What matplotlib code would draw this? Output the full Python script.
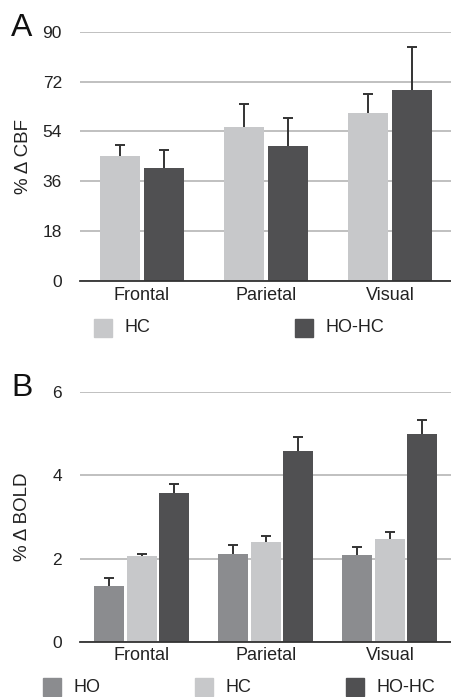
import numpy as np
import matplotlib.pyplot as plt
from matplotlib.patches import Rectangle

plt.rcParams['font.family'] = ['Liberation Sans', 'DejaVu Sans']

# --- datos ---
regions = ['Frontal', 'Parietal', 'Visual']

cbf_names = ['HC', 'HO-HC']
cbf_mean = {'HC': [45.1, 55.6, 60.6], 'HO-HC': [40.8, 48.7, 68.9]}
cbf_top = {'HC': [49.1, 63.8, 67.5], 'HO-HC': [47.2, 58.8, 84.4]}
cbf_ticks = [0, 18, 36, 54, 72, 90]

bold_names = ['HO', 'HC', 'HO-HC']
bold_mean = {'HO': [1.34, 2.10, 2.08], 'HC': [2.06, 2.40, 2.47], 'HO-HC': [3.57, 4.59, 5.00]}
bold_top = {'HO': [1.53, 2.33, 2.27], 'HC': [2.12, 2.55, 2.63], 'HO-HC': [3.80, 4.93, 5.34]}
bold_ticks = [0, 2, 4, 6]

colors = {'HO': '#8b8c8f', 'HC': '#c7c8ca', 'HO-HC': '#505052'}
W, H = 452, 697


def panel(rect, names, mean, top, ticks, offsets, width, letter, ylabel, leg_x, leg_y):
    ax = fig.add_axes(rect)
    x = np.arange(len(regions))
    for name, off in zip(names, offsets):
        m = np.array(mean[name])
        t = np.array(top[name])
        ax.bar(x + off, m, width, color=colors[name], zorder=2)
        # solo la mitad superior del error
        ax.vlines(x + off, m, t, color='#333333', linewidth=1.4, zorder=1)
        ax.plot(x + off, t, ls='none', marker='_', ms=7, mew=1.4, color='#333333', zorder=1)
    ax.set_xlim(-0.5, len(regions) - 0.5)
    ax.set_ylim(ticks[0], ticks[-1])
    ax.set_yticks(ticks)
    ax.set_xticks(x)
    ax.set_xticklabels(regions, fontsize=13, color='#222222')
    ax.tick_params(axis='y', length=0, pad=13, labelsize=12.5, labelcolor='#222222')
    ax.tick_params(axis='x', length=0, pad=4)
    ax.yaxis.grid(True, color='#b5b5b5', linewidth=1.2, zorder=0)
    ax.set_axisbelow(True)
    for s in ['top', 'right', 'left']:
        ax.spines[s].set_visible(False)
    ax.spines['bottom'].set_color('#333333')
    ax.spines['bottom'].set_linewidth(1.3)
    ax.spines['bottom'].set_zorder(3)

    top_px = H - (rect[1] + rect[3]) * H
    fig.text(11 / W, 1 - (top_px - 4) / H, letter, fontsize=23, va='center', ha='left', color='#111111')
    fig.text(23 / W, rect[1] + rect[3] / 2, ylabel, rotation=90, fontsize=13.5,
             va='center', ha='center', color='#222222')

    for name, lx in zip(names, leg_x):
        fig.patches.append(Rectangle((lx / W, 1 - (leg_y + 9) / H), 18 / W, 18 / H,
                                     transform=fig.transFigure, color=colors[name]))
        fig.text((lx + 31) / W, 1 - leg_y / H, name, fontsize=13, va='center', ha='left', color='#222222')
    return ax


fig = plt.figure(figsize=(W / 100, H / 100), dpi=100)

panel([80 / W, (H - 281) / H, 372 / W, 249.3 / H], cbf_names, cbf_mean, cbf_top, cbf_ticks,
      [-0.178, 0.178], 0.325, 'A', '% Δ CBF', [94, 295], 328)
panel([80 / W, (H - 641.7) / H, 372 / W, 249.4 / H], bold_names, bold_mean, bold_top, bold_ticks,
      [-0.264, 0.0, 0.262], 0.242, 'B', '% Δ BOLD', [43, 195, 346], 687)

fig.savefig('out.png', dpi=100)
